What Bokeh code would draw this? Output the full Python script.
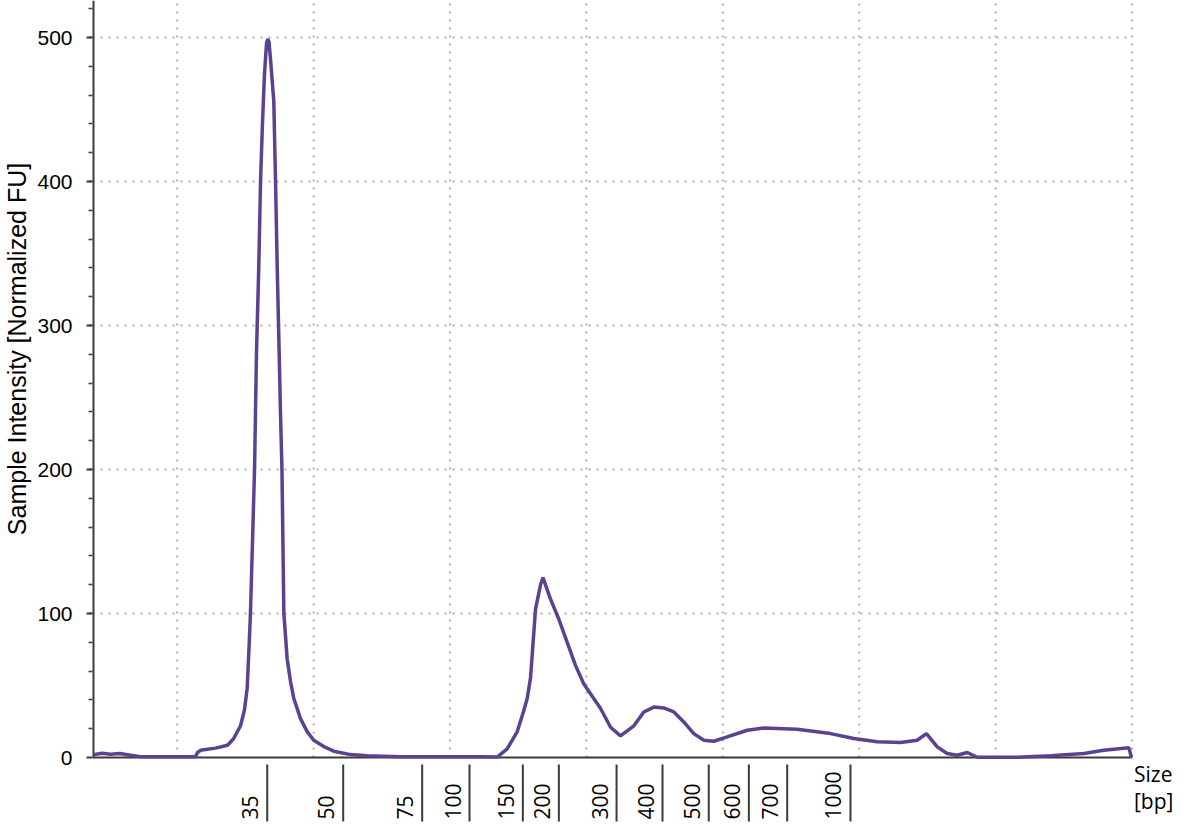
import math
from bokeh.plotting import figure
from bokeh.models import Range1d, FixedTicker
from bokeh.core.properties import value
from bokeh.embed import file_html
from bokeh.resources import INLINE

# migration position (arbitrary run units) and sample intensity [normalized FU]
time = [3.86, 4.5, 5.11, 5.8, 6.58, 7.31, 8.78, 10.24, 11.34, 11.49, 11.71, 12.81, 13.69, 14.13,
        14.64, 14.93, 15.13, 15.26, 15.37, 15.52, 15.67, 15.81, 15.98, 16.11, 16.25, 16.40, 16.55,
        16.64, 16.73, 16.84, 17.08, 17.21, 17.33, 17.43, 17.57, 17.68, 17.82, 18.06, 18.31, 18.55,
        19.04, 19.53, 20.01, 20.75, 21.48, 22.71, 23.93, 26.37, 30.04, 32.24, 33.46, 34.19, 34.93,
        35.39, 35.66, 35.90, 36.27, 36.64, 36.82, 37.07, 37.37, 37.98, 38.59, 39.20, 39.81, 41.04,
        41.77, 42.50, 43.48, 44.21, 44.94, 45.67, 46.41, 47.14, 47.87, 48.61, 49.34, 50.32, 51.79,
        53.01, 55.45, 57.90, 59.60, 61.32, 63.03, 64.25, 64.93, 65.72, 66.45, 67.18, 67.92, 68.65,
        71.58, 74.02, 76.47, 77.93, 79.77, 79.96]
fu = [2.0, 3.0, 2.2, 2.8, 1.5, 0.6, 0.5, 0.5, 0.6, 3.5, 5.0, 6.5, 8.5, 13,
      22, 33, 48, 75, 100, 150, 200, 280, 341, 400, 440, 475, 496,
      499, 497, 485, 456, 400, 341, 300, 240, 200, 100, 68.6, 52.6, 41,
      27, 18, 12, 7.6, 4.4, 2.0, 1.2, 0.6, 0.5, 0.5, 0.3, 6, 18,
      32, 41, 55, 103, 120, 125, 118, 110, 96, 80, 64, 51, 34,
      21, 15, 22, 31.6, 35, 34.4, 31.6, 24.7, 16.6, 12, 11.3, 14.3, 18.9,
      20.5, 19.6, 16.6, 13.2, 10.9, 10.4, 12, 16.6, 7.4, 2.8, 1.6, 3.5, 0.2,
      0.2, 1.2, 2.8, 5, 6.7, 0]

# ladder sizes [bp] and their migration positions
ladder_sizes = ["35", "50", "75", "100", "150", "200", "300", "400", "500", "600", "700", "1000"]
ladder_pos = [16.60, 22.17, 27.96, 31.43, 35.34, 37.98, 42.21, 45.58, 48.97, 51.91, 54.72, 59.36]

y_ticks = [0, 100, 200, 300, 400, 500]
y_minor = list(range(20, 521, 20))
grid_x = [10, 20, 30, 40, 50, 60, 70, 80]
grid_y = [100, 200, 300, 400, 500]

X0, X1 = 3.79, 80.0          # data extent of the run
PXU = 13.64                  # px per x unit
PYU = 1.44                   # px per FU
BASE = 757                   # canvas y of 0 FU
W, H, LEFT = 1184, 822, 92
y_top = BASE / PYU
y_bot = -(H - BASE) / PYU
x_end = X0 + (W - LEFT) / PXU

AXIS_COL = "#3a3a3a"
LINE_COL = "#5b4290"
GRID_COL = "#b0b0b0"

p = figure(width=W, height=H, output_backend="svg", toolbar_location=None,
           x_range=Range1d(X0, x_end), y_range=Range1d(y_bot, y_top),
           min_border_left=LEFT, min_border_right=0, min_border_top=0, min_border_bottom=0)
p.outline_line_color = None
p.xaxis.visible = False
p.xgrid.visible = False
p.ygrid.visible = False

# y axis (ticks and labels from Bokeh; the line drawn only from 0 upward)
yax = p.yaxis[0]
yax.ticker = FixedTicker(ticks=y_ticks, minor_ticks=y_minor)
yax.axis_line_color = None
yax.major_tick_line_color = AXIS_COL
yax.major_tick_line_width = 2
yax.major_tick_out = 6
yax.major_tick_in = 0
yax.minor_tick_line_color = AXIS_COL
yax.minor_tick_line_width = 1.5
yax.minor_tick_out = 4
yax.minor_tick_in = 0
yax.major_label_text_font = "Liberation Sans"
yax.major_label_text_font_size = "21px"
yax.major_label_text_color = "black"
yax.major_label_standoff = 14
# leading no-break spaces lift the centred title onto the 0-500 span
yax.axis_label = "\u00a0" * 18 + "Sample Intensity [Normalized FU]"
yax.axis_label_text_font = "Liberation Sans"
yax.axis_label_text_font_size = "25px"
yax.axis_label_text_font_style = "normal"
yax.axis_label_text_color = "black"
yax.axis_label_standoff = 3

# dotted grid, limited to the data area
p.segment(x0=grid_x, y0=[0] * len(grid_x), x1=grid_x, y1=[y_top] * len(grid_x),
          line_color=GRID_COL, line_width=2, line_dash="2 6")
p.segment(x0=[X0] * len(grid_y), y0=grid_y, x1=[X1] * len(grid_y), y1=grid_y,
          line_color=GRID_COL, line_width=2, line_dash="2 6")

# axis lines
p.segment(x0=[X0], y0=[0], x1=[X0], y1=[y_top], line_color=AXIS_COL, line_width=4)
p.segment(x0=[X0], y0=[0], x1=[X1], y1=[0], line_color=AXIS_COL, line_width=2)

# trace
p.line(time, fu, line_color=LINE_COL, line_width=3.5)

# ladder separators below the baseline and their rotated labels
n = len(ladder_pos)
p.segment(x0=ladder_pos, y0=[-7 / PYU] * n, x1=ladder_pos, y1=[-(H - 1 - BASE) / PYU] * n,
          line_color=AXIS_COL, line_width=2)
p.text(x=ladder_pos, y=[-(H - 3 - BASE) / PYU] * n, text=ladder_sizes, angle=math.pi / 2,
       x_offset=-17, text_align="left", text_baseline="middle",
       text_font=value("Open Sans"), text_font_size="21px", text_color="black")

# x axis title at the right end
p.text(x=[X1, X1], y=[-2 / PYU, -29 / PYU], text=["Size", "[bp]"], x_offset=2,
       text_align="left", text_baseline="top",
       text_font=value("Open Sans"), text_font_size="21px", text_color="black")

open("out.html", "w").write(file_html(p, INLINE))
